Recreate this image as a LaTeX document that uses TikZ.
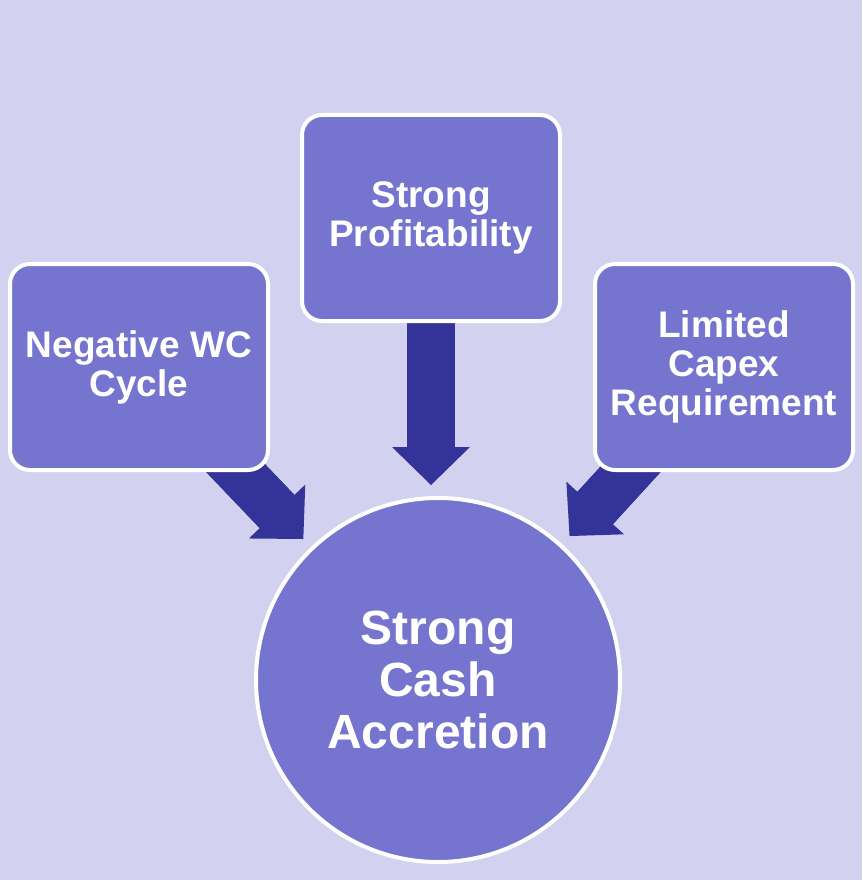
\documentclass[tikz,border=0pt]{standalone}
\usepackage{fontspec}
\setmainfont{Liberation Sans}
\usetikzlibrary{arrows.meta,backgrounds}
\definecolor{bgcol}{RGB}{210,210,240}
\definecolor{boxcol}{RGB}{117,117,208}
\definecolor{flowcol}{RGB}{51,51,153}
\begin{document}
\begin{tikzpicture}[x=1pt,y=-1pt,
 box/.style={draw=white,line width=4pt,fill=boxcol,rounded corners=20pt,minimum width=258pt,minimum height=206pt,align=center,text=white,font=\bfseries\fontsize{37}{39}\selectfont},
 goal/.style={circle,draw=white,line width=4pt,fill=boxcol,minimum size=364pt,align=center,text=white,font=\bfseries\fontsize{48}{52}\selectfont},
 flow/.style={draw=flowcol,line width=48pt,shorten >=195pt,-{Triangle[length=38pt,width=78pt,line width=0pt]}},
 shaft/.style={draw=flowcol,line width=48pt,shorten >=224pt}]
 \node[box] (wc) at (139,367) {Negative WC\\Cycle};
 \node[box] (profit) at (431,218) {Strong\\Profitability};
 \node[box] (capex) at (724,367) {Limited\\Capex\\Requirement};
 \node[goal] (cash) at (438,680) {Strong\\Cash\\Accretion};
 \begin{scope}[on background layer]
 \fill[bgcol] (0,0) rectangle (862,880);
 \draw[flow] (wc.center) -- (cash.center);
 \draw[flow] (profit.center) -- (profit.center |- cash.center);
 \draw[flow] (capex.center) -- (cash.center);
 \draw[shaft] (wc.center) -- (cash.center);
 \draw[shaft] (profit.center) -- (profit.center |- cash.center);
 \draw[shaft] (capex.center) -- (cash.center);
 \end{scope}
\end{tikzpicture}
\end{document}
